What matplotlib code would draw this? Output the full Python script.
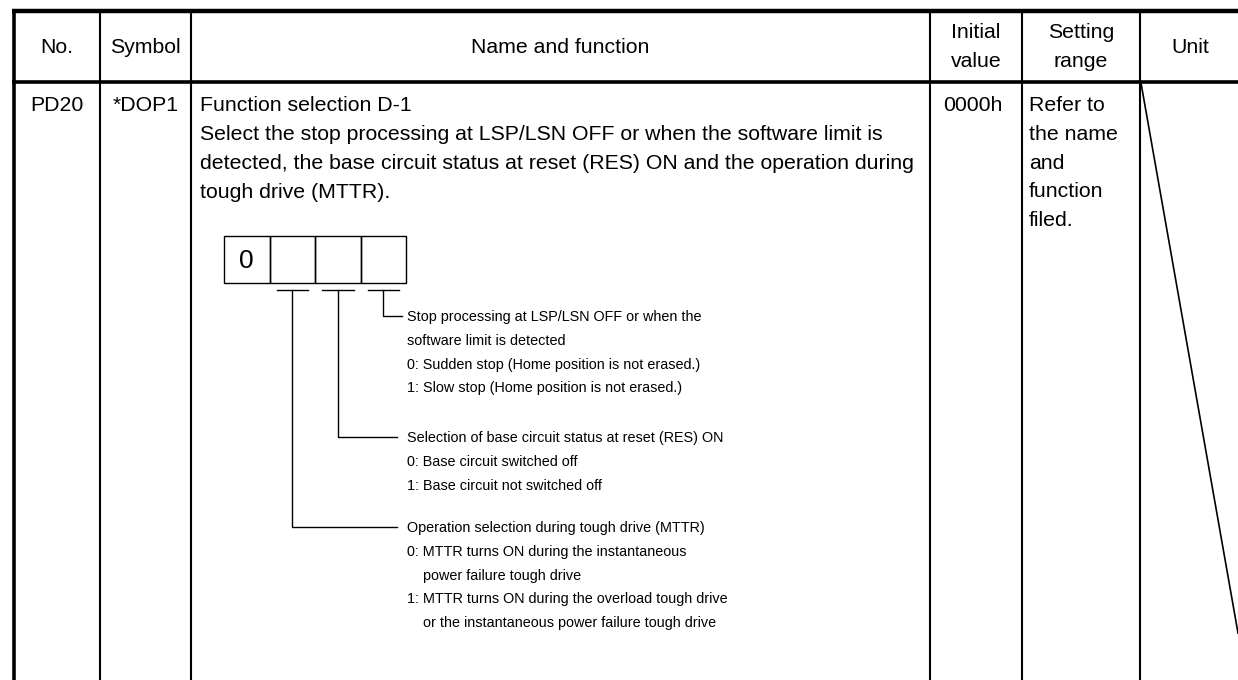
import matplotlib.pyplot as plt
from matplotlib.patches import Rectangle

plt.rcParams['font.family'] = ['Liberation Sans', 'DejaVu Sans']

# Tabelleninhalt
kopf = ["No.", "Symbol", "Name and function", "Initial\nvalue", "Setting\nrange", "Unit"]
spalten = [13, 100, 191, 930, 1022, 1140, 1240]  # Spaltengrenzen (px)

nr = "PD20"
symbol = "*DOP1"
beschreibung = [
    "Function selection D-1",
    "Select the stop processing at LSP/LSN OFF or when the software limit is",
    "detected, the base circuit status at reset (RES) ON and the operation during",
    "tough drive (MTTR).",
]
anfangswert = "0000h"
bereich = ["Refer to", "the name", "and", "function", "filed."]

ziffern = ["0", "", "", ""]
erklaerungen = [
    ["Stop processing at LSP/LSN OFF or when the",
     "software limit is detected",
     "0: Sudden stop (Home position is not erased.)",
     "1: Slow stop (Home position is not erased.)"],
    ["Selection of base circuit status at reset (RES) ON",
     "0: Base circuit switched off",
     "1: Base circuit not switched off"],
    ["Operation selection during tough drive (MTTR)",
     "0: MTTR turns ON during the instantaneous",
     "   power failure tough drive",
     "1: MTTR turns ON during the overload tough drive",
     "   or the instantaneous power failure tough drive"],
]

fig = plt.figure(figsize=(12.38, 6.80), dpi=100)
ax = fig.add_axes([0, 0, 1, 1])
ax.set_xlim(0, 1238)
ax.set_ylim(680, 0)
ax.axis('off')

dick = 2.6
mittel = 1.5
duenn = 1.0
fs = 15.3       # Tabellentext
fs_klein = 10.4  # Text im Diagramm

# Rahmen und Gitter
ax.plot([12, 1238], [10.5, 10.5], color='black', lw=3.2, solid_capstyle='butt')
ax.plot([12, 1238], [81.5, 81.5], color='black', lw=dick, solid_capstyle='butt')
ax.plot([13.5, 13.5], [9, 680], color='black', lw=dick, solid_capstyle='butt')
for x in spalten[1:-1]:
    ax.plot([x, x], [10, 680], color='black', lw=mittel, solid_capstyle='butt')

# Diagonale in der Einheit-Spalte
ax.plot([1141, 1238], [83, 633], color='black', lw=1.2)

# Kopfzeile
for i, t in enumerate(kopf):
    xm = (spalten[i] + spalten[i + 1]) / 2
    zeilen = t.split("\n")
    if len(zeilen) == 1:
        ax.text(xm, 53, zeilen[0], ha='center', va='baseline', fontsize=fs)
    else:
        for j, z in enumerate(zeilen):
            ax.text(xm, 38.5 + j * 28.5, z, ha='center', va='baseline', fontsize=fs)

# Datenzeile
basis = 111
abstand = 29
ax.text((spalten[0] + spalten[1]) / 2, basis, nr, ha='center', va='baseline', fontsize=fs)
ax.text((spalten[1] + spalten[2]) / 2, basis, symbol, ha='center', va='baseline', fontsize=fs)
for j, z in enumerate(beschreibung):
    ax.text(200, basis + j * abstand, z, ha='left', va='baseline', fontsize=fs)
ax.text(973, basis, anfangswert, ha='center', va='baseline', fontsize=fs)
for j, z in enumerate(bereich):
    ax.text(1029, basis + j * 28.8, z, ha='left', va='baseline', fontsize=fs)

# Ziffernkasten
x0, y0, b, h = 224, 236, 45.5, 47
for k, z in enumerate(ziffern):
    ax.add_patch(Rectangle((x0 + k * b, y0), b, h, fill=False, lw=duenn, ec='black'))
    if z:
        ax.text(x0 + k * b + b / 2, y0 + h / 2 + 1, z, ha='center', va='center', fontsize=19)

# Verbindungslinien und Erklaerungen (von rechts nach links)
verbinder_y = [316, 437, 527]
text_x = 407
einzug_x = 423  # Fortsetzungszeilen
for n, zeilen in enumerate(erklaerungen):
    k = 3 - n
    xm = x0 + k * b + b / 2
    ax.plot([x0 + k * b + 7, x0 + (k + 1) * b - 7], [290, 290], color='black', lw=duenn)
    yv = verbinder_y[n]
    ende = 402 if n == 0 else 397
    ax.plot([xm, xm, ende], [290, yv, yv], color='black', lw=duenn)
    for j, z in enumerate(zeilen):
        xt = einzug_x if z.startswith(" ") else text_x
        ax.text(xt, yv + 5 + j * 23.8, z.strip(), ha='left', va='baseline', fontsize=fs_klein)

fig.savefig("out.png", dpi=100)
